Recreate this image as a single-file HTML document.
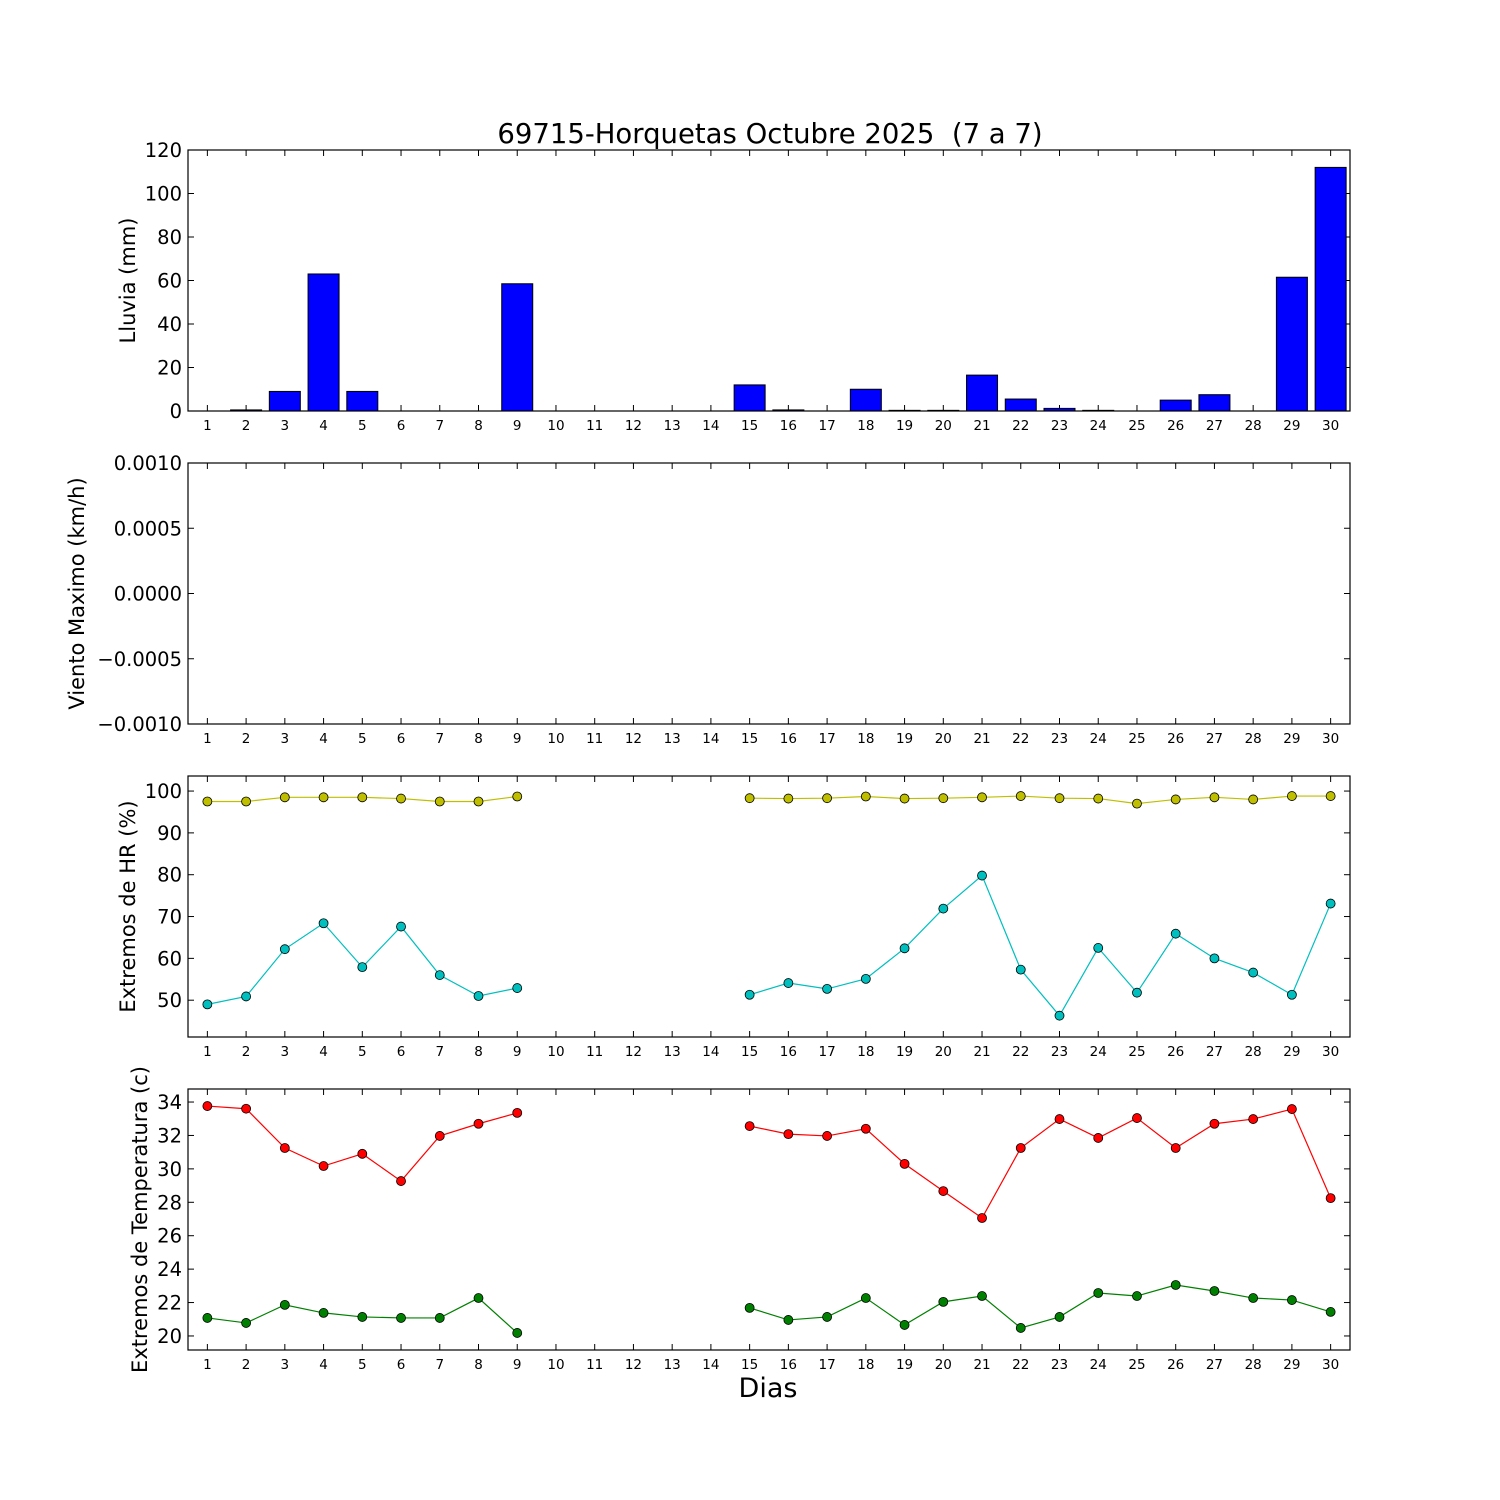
<!DOCTYPE html>
<html><head><meta charset="utf-8"><style>
html,body{margin:0;padding:0;background:#fff;}
svg{display:block;font-family:"DejaVu Sans","Liberation Sans",sans-serif;}
</style></head><body>
<svg id="fig" width="1500" height="1500" viewBox="0 0 1500 1500" xmlns="http://www.w3.org/2000/svg">
<rect width="1500" height="1500" fill="#fff"/>
<text x="770" y="143" font-size="27.5" text-anchor="middle" style="white-space:pre">69715-Horquetas Octubre 2025  (7 a 7)</text>
<text x="768" y="1397" font-size="27" text-anchor="middle">Dias</text>
</svg>
<script>
const days=[1,2,3,4,5,6,7,8,9,10,11,12,13,14,15,16,17,18,19,20,21,22,23,24,25,26,27,28,29,30];
const rain=[0,0.5,9,63,9,0,0,0,58.5,null,null,null,null,null,12,0.5,0,10,0.3,0.3,16.5,5.5,1.2,0.3,0,5,7.5,0,61.5,112];
const hrMax=[97.5,97.5,98.5,98.5,98.5,98.2,97.5,97.5,98.7,null,null,null,null,null,98.3,98.2,98.3,98.7,98.2,98.3,98.5,98.8,98.3,98.2,97,98,98.5,98,98.8,98.8];
const hrMin=[49.0,50.9,62.2,68.4,57.9,67.6,56.0,51.0,52.9,null,null,null,null,null,51.3,54.1,52.7,55.1,62.4,71.9,79.8,57.3,46.3,62.5,51.8,65.9,60.0,56.6,51.3,73.1];
const tMax=[33.76,33.6,31.25,30.17,30.9,29.27,31.97,32.7,33.35,null,null,null,null,null,32.56,32.08,31.97,32.4,30.3,28.67,27.06,31.25,32.98,31.85,33.04,31.25,32.7,32.98,33.58,28.25];
const tMin=[21.08,20.78,21.86,21.38,21.14,21.08,21.08,22.27,20.18,null,null,null,null,null,21.68,20.96,21.14,22.27,20.66,22.04,22.39,20.48,21.14,22.57,22.39,23.05,22.69,22.27,22.15,21.44];
const rainTicks=[0,20,40,60,80,100,120];
const windTicks=[-0.001,-0.0005,0,0.0005,0.001];
const windLabels=["\u22120.0010","\u22120.0005","0.0000","0.0005","0.0010"];
const hrTicks=[50,60,70,80,90,100];
const tTicks=[20,22,24,26,28,30,32,34];

const NS="http://www.w3.org/2000/svg";
const svg=document.getElementById('fig');
function mk(tag,attrs,parent){const e=document.createElementNS(NS,tag);for(const k in attrs)e.setAttribute(k,attrs[k]);(parent||svg).appendChild(e);return e;}
const L=188,R=1350;
function xs(d){return L+(d-0.5)*(R-L)/30;}

function panel(name,top,bot,ymin,ymax,ticks,labels,ylabel,ylx){
  const g=mk('g',{});
  
  
  const ys=v=>bot-(v-ymin)/(ymax-ymin)*(bot-top);
  ticks.forEach((t,i)=>{
    const y=ys(t);
    mk('line',{x1:L,x2:L+6,y1:y,y2:y,stroke:'#000'},g);
    mk('line',{x1:R-6,x2:R,y1:y,y2:y,stroke:'#000'},g);
    const tx=mk('text',{x:L-6,y:y+7,'font-size':19.5,'text-anchor':'end'},g);
    tx.textContent=labels?labels[i]:String(t);
    
    
  });
  days.forEach(d=>{
    const x=xs(d);
    mk('line',{x1:x,x2:x,y1:bot,y2:bot-6,stroke:'#000'},g);
    mk('line',{x1:x,x2:x,y1:top,y2:top+6,stroke:'#000'},g);
    const tx=mk('text',{x:x,y:bot+19,'font-size':13.5,'text-anchor':'middle'},g);
    tx.textContent=String(d);
    
    
  });
  const yl=mk('text',{x:0,y:0,'font-size':21,'text-anchor':'middle',transform:`translate(${ylx+7},${(top+bot)/2}) rotate(-90)`},g);
  yl.textContent=ylabel;
  
  
  return {g,ys};
}
function frame(g,top,bot){mk('rect',{x:L,y:top,width:R-L,height:bot-top,fill:'none',stroke:'#000','stroke-width':1.2},g);}

function series(g,ys,vals,color,name){
  let segs=[],cur=[];
  vals.forEach((v,i)=>{if(v==null){if(cur.length)segs.push(cur);cur=[];}else cur.push([xs(days[i]),ys(v)]);});
  if(cur.length)segs.push(cur);
  segs.forEach(s=>{
    const p=mk('polyline',{points:s.map(q=>q.join(',')).join(' '),fill:'none',stroke:color,'stroke-width':1.2},g);
    
    
  });
  vals.forEach((v,i)=>{if(v==null)return;
    const c=mk('circle',{cx:xs(days[i]),cy:ys(v),r:4.5,fill:color,stroke:'#000','stroke-width':0.8},g);
    
    
  });
}

let p=panel('rain',150,411,0,120,rainTicks,null,'Lluvia (mm)',128);
rain.forEach((v,i)=>{if(v==null)return;
  const x=xs(days[i])-15.5,y=p.ys(v);
  const b=mk('rect',{x:x,y:y,width:31,height:411-y,fill:'#0000ff',stroke:'#000','stroke-width':1},p.g);
  
  
});
frame(p.g,150,411);

p=panel('wind',463,724,-0.001,0.001,windTicks,windLabels,'Viento Maximo (km/h)',77);
frame(p.g,463,724);

p=panel('humidity',776,1037,41.2,103.6,hrTicks,null,'Extremos de HR (%)',128);
series(p.g,p.ys,hrMax,'#bfbf00','hr-max');
series(p.g,p.ys,hrMin,'#00bfbf','hr-min');
frame(p.g,776,1037);

p=panel('temperature',1089,1350,19.16,34.78,tTicks,null,'Extremos de Temperatura (c)',140);
series(p.g,p.ys,tMax,'#ff0000','temp-max');
series(p.g,p.ys,tMin,'#008000','temp-min');
frame(p.g,1089,1350);
</script>
</body></html>
